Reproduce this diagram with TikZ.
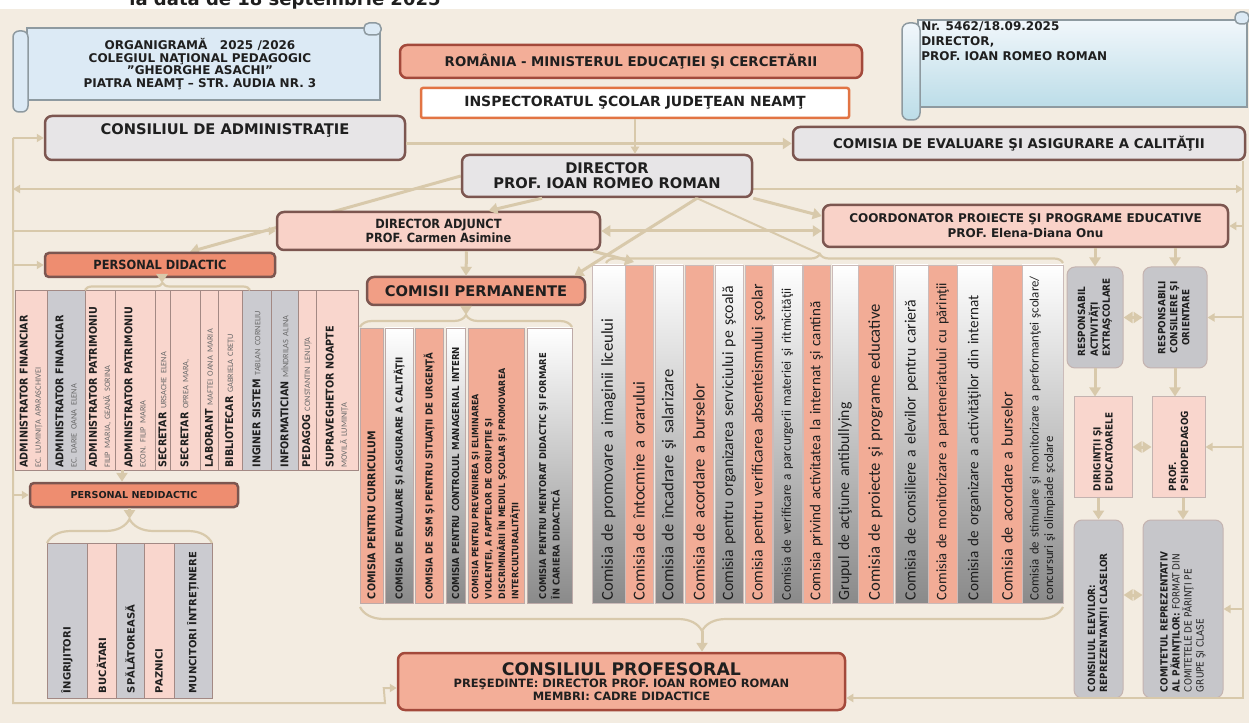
\documentclass[tikz,border=0pt]{standalone}
\usepackage{fontspec}
\setmainfont{DejaVu Sans}
\newfontfamily\condfont{DejaVu Sans Condensed}
\newfontfamily\calfont{Carlito}
\usepackage{graphicx}
\usetikzlibrary{arrows.meta,calc,decorations.pathreplacing}

\definecolor{bgbeige}{HTML}{F3ECE1}
\definecolor{edgebrown}{HTML}{7C5650}
\definecolor{greybox}{HTML}{E7E5E7}
\definecolor{pinkbox}{HTML}{F9D2C8}
\definecolor{salmonbox}{HTML}{F3AE98}
\definecolor{redbox}{HTML}{EE8D70}
\definecolor{rededge}{HTML}{A3493B}
\definecolor{orangeedge}{HTML}{E27443}
\definecolor{staffpink}{HTML}{F9D6CD}
\definecolor{staffgrey}{HTML}{CBCBD0}
\definecolor{comsalmon}{HTML}{F2AC96}
\definecolor{gradgrey}{HTML}{8A8A8A}
\definecolor{sidegrey}{HTML}{C6C6CA}
\definecolor{tanline}{HTML}{D8C9AB}
\definecolor{scrollblue}{HTML}{DCEAF5}
\definecolor{scrollbluedark}{HTML}{BCDDE8}
\definecolor{scrolledge}{HTML}{8E9AA0}
\definecolor{namegrey}{HTML}{6A6A6A}

\pgfdeclarelayer{bg}
\pgfdeclarelayer{behind}
\pgfsetlayers{bg,behind,main}

\newdimen\pxu
\pxu=0.75pt
\newcommand{\namefnt}{\calfont\mdseries\fontsize{6.2}{7}\selectfont\color{namegrey}}

\begin{document}
\begin{tikzpicture}[x=0.75pt, y=-0.75pt, inner sep=0pt, text=black!88,
  box/.style={draw=edgebrown, line width=2.5\pxu, rounded corners=7\pxu, align=center},
  stafcol/.style={draw=edgebrown!70, line width=0.8\pxu, rotate=90, minimum width=180\pxu, text width=175\pxu, align=left, font=\condfont\bfseries\fontsize{8}{10}\selectfont},
  permcol/.style={draw=edgebrown!50, line width=0.6\pxu, rotate=90, minimum width=275\pxu, text width=267\pxu, align=left, font=\condfont\bfseries\fontsize{7.2}{10}\selectfont},
  comcol/.style={draw=edgebrown!40, line width=0.6\pxu, rotate=90, minimum width=338\pxu, text width=332\pxu, align=left},
  comfs/.style={font=\calfont\fontsize{#1}{12}\selectfont},
  nedcol/.style={draw=edgebrown!70, line width=0.8\pxu, rotate=90, minimum width=155\pxu, text width=145\pxu, align=left, font=\bfseries\fontsize{7.5}{9}\selectfont},
  gradfill/.style={top color=white, bottom color=gradgrey},
  sidebox/.style={draw=edgebrown!45, line width=1\pxu, font=\condfont\bfseries\fontsize{7.4}{9}\selectfont},
  scroll/.style={fill=scrollblue, draw=scrolledge, line width=1.5\pxu},
  conn/.style={draw=tanline, line width=3\pxu, arrows={-Triangle[length=6.75pt, width=8.25pt]}},
  conntwo/.style={conn, arrows={Triangle[length=6.75pt, width=8.25pt]-Triangle[length=6.75pt, width=8.25pt]}},
  frameline/.style={draw=tanline, line width=2\pxu},
  frarrow/.style={frameline, arrows={-Triangle[length=5.25pt, width=6pt]}},
  frtwo/.style={frameline, arrows={Triangle[length=5.25pt, width=6pt]-Triangle[length=5.25pt, width=6pt]}},
  bracetan/.style={draw=tanline, line width=2.2\pxu, decorate, decoration={brace, amplitude=#1}},
]
\useasboundingbox (0,0) rectangle (1249,723);
\begin{pgfonlayer}{bg}
  \fill[white] (0,0) rectangle (1249,9);
  \fill[bgbeige] (0,9) rectangle (1249,723);
\end{pgfonlayer}

\node[font=\bfseries\fontsize{13.5}{15}\selectfont, anchor=base] (datehead) at (285,6) {la data de 18 septembrie 2025};

% scroll with the title
\filldraw[scroll] (27,28) rectangle (380,100);
\filldraw[scroll, rounded corners=6\pxu] (13,31) rectangle (28,112);
\filldraw[scroll, rounded corners=5\pxu] (364,23) rectangle (381,35);
\node[font=\bfseries\fontsize{9}{9.4}\selectfont, align=center] (orgtitle) at (200,64)
  {ORGANIGRAMĂ~~~2025 /2026\\COLEGIUL NAŢIONAL PEDAGOGIC\\"GHEORGHE ASACHI"\\PIATRA NEAMŢ – STR. AUDIA NR. 3};

% scroll with the number
\draw[scroll, top color=white!60!scrollblue, bottom color=scrollbluedark] (918,20) rectangle (1247,107);
\draw[scroll, top color=white!60!scrollblue, bottom color=scrollbluedark, rounded corners=7\pxu] (902,23) rectangle (920,120);
\filldraw[scroll, rounded corners=5\pxu] (1235,12) rectangle (1249,24);
\node[anchor=north west, align=left, font=\bfseries\fontsize{9}{11.25}\selectfont] (docnr) at (921,21)
  {Nr. 5462/18.09.2025\\DIRECTOR,\\PROF. IOAN ROMEO ROMAN};

% main boxes
\node[box, draw=rededge, fill=salmonbox, minimum width=462\pxu, minimum height=33\pxu, font=\bfseries\fontsize{10}{11}\selectfont] (minister) at (631,61.5) {ROMÂNIA - MINISTERUL EDUCAŢIEI ŞI CERCETĂRII};
\node[box, draw=orangeedge, fill=white, rounded corners=2\pxu, minimum width=428\pxu, minimum height=30\pxu, font=\bfseries\fontsize{10.5}{11}\selectfont] (insp) at (635,103) {INSPECTORATUL ŞCOLAR JUDEŢEAN NEAMŢ};
\node[box, fill=greybox, minimum width=360\pxu, minimum height=44\pxu, text depth=17\pxu, font=\bfseries\fontsize{11}{12}\selectfont] (ca) at (225,138) {CONSILIUL DE ADMINISTRAŢIE};
\node[box, fill=greybox, minimum width=452\pxu, minimum height=33\pxu, font=\bfseries\fontsize{10}{11}\selectfont] (ceac) at (1019,143.5) {COMISIA DE EVALUARE ŞI ASIGURARE A CALITĂŢII};
\node[box, fill=greybox, minimum width=290\pxu, minimum height=42\pxu, font=\bfseries\fontsize{11}{11.25}\selectfont] (dir) at (607,176) {DIRECTOR\\PROF. IOAN ROMEO ROMAN};
\node[box, fill=pinkbox, minimum width=323\pxu, minimum height=38\pxu, font=\condfont\bfseries\fontsize{9.5}{10.5}\selectfont] (da) at (438.5,231) {DIRECTOR ADJUNCT\\PROF. Carmen Asimine};
\node[box, fill=pinkbox, minimum width=405\pxu, minimum height=42\pxu, font=\bfseries\fontsize{9}{11.25}\selectfont] (coord) at (1025.5,226) {COORDONATOR PROIECTE ŞI PROGRAME EDUCATIVE\\PROF. Elena-Diana Onu};
\node[box, fill=redbox, rounded corners=4\pxu, minimum width=230\pxu, minimum height=24\pxu, font=\condfont\bfseries\fontsize{9.5}{10}\selectfont] (pd) at (160,265) {PERSONAL DIDACTIC};
\node[box, fill=redbox!85, minimum width=218\pxu, minimum height=28\pxu, font=\bfseries\fontsize{11}{12}\selectfont] (cp) at (476,291) {COMISII PERMANENTE};
\node[box, fill=redbox, rounded corners=4\pxu, minimum width=208\pxu, minimum height=24\pxu, font=\bfseries\fontsize{7.2}{9}\selectfont] (pn) at (134,495) {PERSONAL NEDIDACTIC};
\node[box, draw=rededge, fill=salmonbox, minimum width=447\pxu, minimum height=57\pxu, font=\bfseries\fontsize{8.6}{9.2}\selectfont] (consprof) at (621.5,681.5)
  {{\fontsize{13}{12}\selectfont CONSILIUL PROFESORAL}\\PREŞEDINTE: DIRECTOR PROF. IOAN ROMEO ROMAN\\MEMBRI: CADRE DIDACTICE};

% personal didactic
\node[stafcol, fill=staffpink, minimum height=32\pxu] (admfin1) at (31,380) {ADMINISTRATOR FINANCIAR\\{\namefnt EC. LUMINIȚA APARASCHIVEI}};
\node[stafcol, fill=staffgrey, minimum height=38\pxu] (admfin2) at (66,380) {ADMINISTRATOR FINANCIAR\\{\namefnt EC. DARIE OANA ELENA}};
\node[stafcol, fill=staffpink, minimum height=30\pxu] (admpat1) at (100,380) {ADMINISTRATOR PATRIMONIU\\{\namefnt FILIP MARIA, GEANĂ SORINA}};
\node[stafcol, fill=staffpink, minimum height=40\pxu] (admpat2) at (135,380) {ADMINISTRATOR PATRIMONIU\\{\namefnt ECON. FILIP MARIA}};
\node[stafcol, fill=staffpink, minimum height=15\pxu] (secr1) at (162.5,380) {SECRETAR~{\namefnt URSACHE ELENA}};
\node[stafcol, fill=staffpink, minimum height=30\pxu] (secr2) at (185,380) {SECRETAR~{\namefnt OPREA MARA,}};
\node[stafcol, fill=staffpink, minimum height=18\pxu] (labor) at (209,380) {LABORANT~{\namefnt MAFTEI OANA MARIA}};
\node[stafcol, fill=staffpink, minimum height=24\pxu] (biblio) at (230,380) {BIBLIOTECAR~{\namefnt GABRIELA CREȚU}};
\node[stafcol, fill=staffgrey, minimum height=29\pxu] (ingsis) at (256.5,380) {INGINER SISTEM~{\namefnt TABLAN CORNELIU}};
\node[stafcol, fill=staffgrey, minimum height=27\pxu] (inform) at (284.5,380) {INFORMATICIAN~{\namefnt MÎNDRILAS ALINA}};
\node[stafcol, fill=staffpink, minimum height=18\pxu] (pedag) at (307,380) {PEDAGOG~{\namefnt CONSTANTIN LENUȚA}};
\node[stafcol, fill=staffpink, minimum height=42\pxu] (supra) at (337,380) {SUPRAVEGHETOR NOAPTE\\{\namefnt MOVILĂ LUMINIȚA}};

% comisii permanente
\node[permcol, fill=comsalmon, minimum height=23\pxu, font=\condfont\bfseries\fontsize{8}{10}\selectfont] (cpcurr) at (371.5,465.5) {COMISIA PENTRU CURRICULUM};
\node[permcol, gradfill, minimum height=28\pxu] (cpceac) at (399,465.5) {COMISIA DE EVALUARE ŞI ASIGURARE A CALITĂŢII};
\node[permcol, fill=comsalmon, minimum height=28\pxu] (cpssm) at (429,465.5) {COMISIA DE SSM ŞI PENTRU SITUAŢII DE URGENŢĂ};
\node[permcol, gradfill, minimum height=19\pxu] (cpscim) at (455.5,465.5) {COMISIA PENTRU CONTROLUL MANAGERIAL INTERN};
\node[permcol, fill=comsalmon, minimum height=56\pxu, font=\condfont\bfseries\fontsize{6.6}{10}\selectfont] (cpviol) at (496,465.5) {COMISIA PENTRU PREVENIREA ŞI ELIMINAREA\\VIOLENŢEI, A FAPTELOR DE CORUPŢIE ŞI\\DISCRIMINĂRII ÎN MEDIUL ŞCOLAR ŞI PROMOVAREA\\INTERCULTURALITĂŢII};
\node[permcol, gradfill, minimum height=45\pxu, font=\condfont\bfseries\fontsize{7}{10}\selectfont] (cpment) at (549.5,465.5) {COMISIA PENTRU MENTORAT DIDACTIC ŞI FORMARE\\ÎN CARIERA DIDACTICĂ};

% comisii
\node[comcol, comfs=12.5, gradfill, minimum height=33\pxu] (cmprom) at (608.5,434) {Comisia de promovare a imaginii liceului};
\node[comcol, comfs=12.5, fill=comsalmon, minimum height=28\pxu] (cmorar) at (639,434) {Comisia de întocmire a orarului};
\node[comcol, comfs=12.5, gradfill, minimum height=28\pxu] (cmsal) at (669,434) {Comisia de încadrare şi salarizare};
\node[comcol, comfs=12.5, fill=comsalmon, minimum height=28\pxu] (cmburs) at (699,434) {Comisia de acordare a burselor};
\node[comcol, comfs=11.8, gradfill, minimum height=28\pxu] (cmserv) at (729,434) {Comisia pentru organizarea serviciului pe şcoală};
\node[comcol, comfs=11.8, fill=comsalmon, minimum height=27\pxu] (cmabs) at (758.5,434) {Comisia pentru verificarea absenteismului şcolar};
\node[comcol, comfs=10, gradfill, minimum height=29\pxu] (cmmat) at (787.5,434) {Comisia de verificare a parcurgerii materiei şi ritmicităţii};
\node[comcol, comfs=11.3, fill=comsalmon, minimum height=27\pxu] (cmint) at (816.5,434) {Comisia privind activitatea la internat şi cantină};
\node[comcol, comfs=11.8, gradfill, minimum height=26\pxu] (cmbull) at (845,434) {Grupul de acţiune antibullying};
\node[comcol, comfs=12.5, fill=comsalmon, minimum height=35\pxu] (cmproi) at (875.5,434) {Comisia de proiecte şi programe educative};
\node[comcol, comfs=11.8, gradfill, minimum height=33\pxu] (cmcar) at (911.5,434) {Comisia de consiliere a elevilor pentru carieră};
\node[comcol, comfs=10.9, fill=comsalmon, minimum height=29\pxu] (cmpar) at (942.5,434) {Comisia de monitorizare a parteneriatului cu părinţii};
\node[comcol, comfs=11.4, gradfill, minimum height=35\pxu] (cmact) at (974.5,434) {Comisia de organizare a activităţilor din internat};
\node[comcol, comfs=12, fill=comsalmon, minimum height=30\pxu] (cmburs2) at (1007,434) {Comisia de acordare a burselor};
\node[comcol, font=\calfont\fontsize{9.6}{11}\selectfont, gradfill, minimum height=41\pxu] (cmperf) at (1042.5,434) {Comisia de stimulare şi monitorizare a performanţei şcolare/\\concursuri şi olimpiade şcolare};

% personal nedidactic
\node[nedcol, fill=staffgrey, minimum height=40\pxu] (ingr) at (67,620.5) {ÎNGRIJITORI};
\node[nedcol, fill=staffpink, minimum height=29\pxu] (bucat) at (101.5,620.5) {BUCĂTARI};
\node[nedcol, fill=staffgrey, minimum height=28\pxu] (spal) at (130,620.5) {SPĂLĂTOREASĂ};
\node[nedcol, fill=staffpink, minimum height=30\pxu] (pazn) at (159,620.5) {PAZNICI};
\node[nedcol, fill=staffgrey, minimum height=38\pxu] (munc) at (193,620.5) {MUNCITORI ÎNTREȚINERE};

% right side
\node[sidebox, fill=sidegrey, rounded corners=8\pxu, minimum width=56\pxu, minimum height=101\pxu] (ra) at (1095,317.5)
  {\rotatebox{90}{\begin{tabular}{@{}l@{}}RESPONSABIL\\ACTIVITĂŢI\\EXTRAŞCOLARE\end{tabular}}};
\node[sidebox, fill=sidegrey, rounded corners=8\pxu, minimum width=64\pxu, minimum height=101\pxu] (rc) at (1175,317.5)
  {\rotatebox{90}{\begin{tabular}{@{}c@{}}RESPONSABILI\\CONSILIERE ŞI\\ORIENTARE\end{tabular}}};
\node[sidebox, fill=staffpink, minimum width=58\pxu, minimum height=100\pxu] (dir2) at (1103,447)
  {\rotatebox{90}{\parbox{88\pxu}{\raggedright DIRIGINŢII ŞI\\EDUCATOARELE}}};
\node[sidebox, fill=staffpink, minimum width=53\pxu, minimum height=100\pxu] (psi) at (1178.5,447)
  {\rotatebox{90}{\parbox{88\pxu}{\raggedright PROF.\\PSIHOPEDAGOG}}};
\node[sidebox, fill=sidegrey, rounded corners=8\pxu, minimum width=49\pxu, minimum height=178\pxu] (ce) at (1098.5,609)
  {\rotatebox{90}{\parbox{166\pxu}{\raggedright CONSILIUL ELEVILOR:\\REPREZENTANŢII CLASELOR}}};
\node[sidebox, fill=sidegrey, rounded corners=8\pxu, minimum width=80\pxu, minimum height=178\pxu] (cr) at (1183,609)
  {\rotatebox{90}{\parbox{166\pxu}{\raggedright COMITETUL REPREZENTATIV\\AL PĂRINŢILOR: {\mdseries FORMAT DIN}\\{\mdseries COMITETELE DE PĂRINŢI PE}\\{\mdseries GRUPE ŞI CLASE}}}};

% points for frame and braces
\coordinate (lf) at (13,0);
\coordinate (rf) at (1243,0);
\coordinate (midy) at (0,189);
\coordinate (botl) at (385,703);
\coordinate (botr) at (0,698);
\coordinate (stafbl) at (85,290);
\coordinate (stafbr) at (250,290);
\coordinate (staftip) at (162,283);
\coordinate (stafbot) at (122,470);
\coordinate (permbl) at (360,327);
\coordinate (permbr) at (572,327);
\coordinate (permtip) at (466,315);
\coordinate (g2l) at (606,263);
\coordinate (g2r) at (1063,263);
\coordinate (g2tip) at (820,254);
\coordinate (g2b) at (634,262);
\coordinate (nedbl) at (47,543);
\coordinate (nedbr) at (212,543);
\coordinate (nedtip) at (129.5,519);
\coordinate (allbl) at (360,607);
\coordinate (allbr) at (1063,607);
\coordinate (alltip) at (702,631);

% connectors behind the boxes
\begin{pgfonlayer}{behind}
  \draw[frtwo] (lf |- midy) -- (rf |- midy);
  \draw[conn] (dir.west) -- ($(pd.north)+(30,0)$);
\end{pgfonlayer}

% frame left
\draw[frarrow] (lf |- ca.west) -- (lf |- botl) -- (botl) -- ($(consprof.west)+(-13,6.5)$) -- ($(consprof.west)+(0,6.5)$);
\draw[frarrow] (lf |- ca.west) -- (ca.west);
\draw[frarrow] (lf |- da.west) -- (da.west);
\draw[frarrow] (lf |- pd.west) -- (pd.west);
\draw[frarrow] (lf |- pn.west) -- (pn.west);
% frame right
\draw[frarrow] (rf |- ceac.south) -- (rf |- botr) -- (botr -| consprof.east);
\draw[frarrow] (rf |- coord.east) -- (coord.east);
\draw[frarrow] (rf |- rc.east) -- (rc.east);
\draw[frarrow] (rf |- psi.east) -- (psi.east);
\draw[frarrow] (rf |- cr.east) -- (cr.east);

% top connectors
\draw[frarrow] (insp.south) -- (insp.south |- dir.north);
\draw[conn] (ca.east |- ceac.west) -- (ceac.west);
\draw[conn] ($(dir.south)+(-65,0)$) -- ($(da.north)+(50,0)$);
\draw[conn] (dir.south east) -- ($(coord.west)+(0,-10)$);
\draw[conn] ($(dir.south)+(90,0)$) -- ($(cp.north east)+(-12,0)$);
\draw[frameline] ($(dir.south)+(90,0)$) -- (g2tip);
\draw[conntwo] (da.east) -- (da.east -| coord.west);
\draw[conn] ($(da.south)+(28,0)$) -- ($(cp.north)+(-10,0)$);
\draw[conn] ($(da.south east)+(-8,0)$) -- (g2b);

% braces
\draw[bracetan=7\pxu, decoration={aspect=0.47}] (stafbl) -- (stafbr);
\draw[conn] ($(pd.south)+(2,0)$) -- (staftip);
\draw[conn] (stafbot) -- ($(pn.north)+(-12,0)$);
\draw[bracetan=12\pxu] (permbl) -- (permbr);
\draw[conn] ($(cp.south)+(-10,0)$) -- (permtip);
\draw[bracetan=9\pxu, decoration={aspect=0.468}] (g2l) -- (g2r);
\draw[bracetan=24\pxu] (nedbl) -- (nedbr);
\draw[conn] ($(pn.south)+(-4.5,0)$) -- (nedtip);
\draw[bracetan=24\pxu, decoration={aspect=0.5135}] (allbr) -- (allbl);
\draw[conn] (alltip) -- (alltip |- consprof.north);

% right connectors
\draw[conn] (coord.south -| ra.north) -- (ra.north);
\draw[conn] (coord.south -| rc.north) -- (rc.north);
\draw[conntwo] (ra.east) -- (rc.west);
\draw[conn] (ra.south) -- (ra.south |- dir2.north);
\draw[conn] (rc.south) -- (rc.south |- psi.north);
\draw[conntwo] (dir2.east) -- (psi.west);
\draw[conn] (dir2.south -| ce.north) -- (ce.north);
\draw[conn] (psi.south -| cr.north) -- (cr.north);
\draw[conntwo] ($(ce.east)+(0,-14)$) -- ($(cr.west)+(0,-14)$);
\end{tikzpicture}
\end{document}
